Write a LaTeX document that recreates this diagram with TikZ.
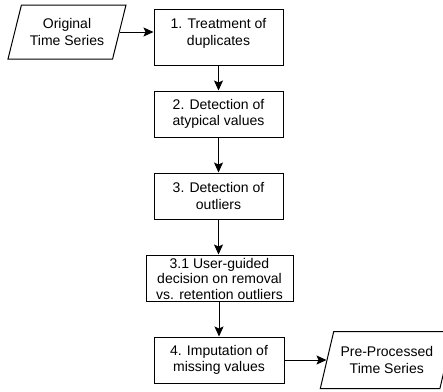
\documentclass[tikz,border=0pt]{standalone}
\usepackage{fontspec}
\setmainfont{Liberation Sans}
\usetikzlibrary{positioning, shapes.geometric, arrows.meta}

\begin{document}
\begin{tikzpicture}[
        x=1pt, y=-1pt,
        node distance=35pt,
        font=\fontsize{14}{16.5}\selectfont,
        step box/.style={rectangle, draw, line width=1pt, fill=white, minimum width=129pt, minimum height=46pt, align=center, inner sep=1pt},
        data/.style={trapezium, trapezium left angle=65, trapezium right angle=115, trapezium stretches body, draw, line width=1pt, fill=white, align=center, inner sep=1pt},
        arrow/.style={-{Stealth[length=10pt, width=9pt, inset=2pt]}, line width=1pt}
    ]
        \useasboundingbox (0,0) rectangle (443,391);

        % Nodes
        \node [data, minimum width=118pt, minimum height=54pt] (orig) at (67,32) {Original\\Time Series};
        \node [step box, minimum height=56pt, inner ysep=0pt, text height=36pt, text depth=20pt] (dup) at (218.5,37) {1. Treatment of\\duplicates};
        \node [step box, below=25pt of dup] (atyp) {2. Detection of\\atypical values};
        \node [step box, below=of atyp] (outl) {3. Detection of\\outliers};
        \node [step box, below=of outl, xshift=1pt, minimum width=147pt, minimum height=46pt, inner ysep=0pt,
               text height=44pt, text depth=2pt, font=\fontsize{14}{15.5}\selectfont] (decide) {3.1 User-guided\\decision on removal\\vs. retention outliers};
        \node [step box, below=35pt of decide, xshift=-0.5pt, minimum width=130pt] (impute) {4. Imputation of\\missing values};
        \node [data, right=42pt of impute, minimum width=133pt, minimum height=57pt] (result) {Pre-Processed\\Time Series};

        % Edges
        \draw [arrow] (orig.east) -- (orig.east -| dup.west);
        \draw [arrow] (dup) -- (atyp);
        \draw [arrow] (atyp) -- (outl);
        \draw [arrow] (outl) -- (outl |- decide.north);
        \draw [arrow] (decide.south -| impute) -- (impute);
        \draw [arrow] (impute.east) -- (impute.east -| result.west);

    \end{tikzpicture}
\end{document}
